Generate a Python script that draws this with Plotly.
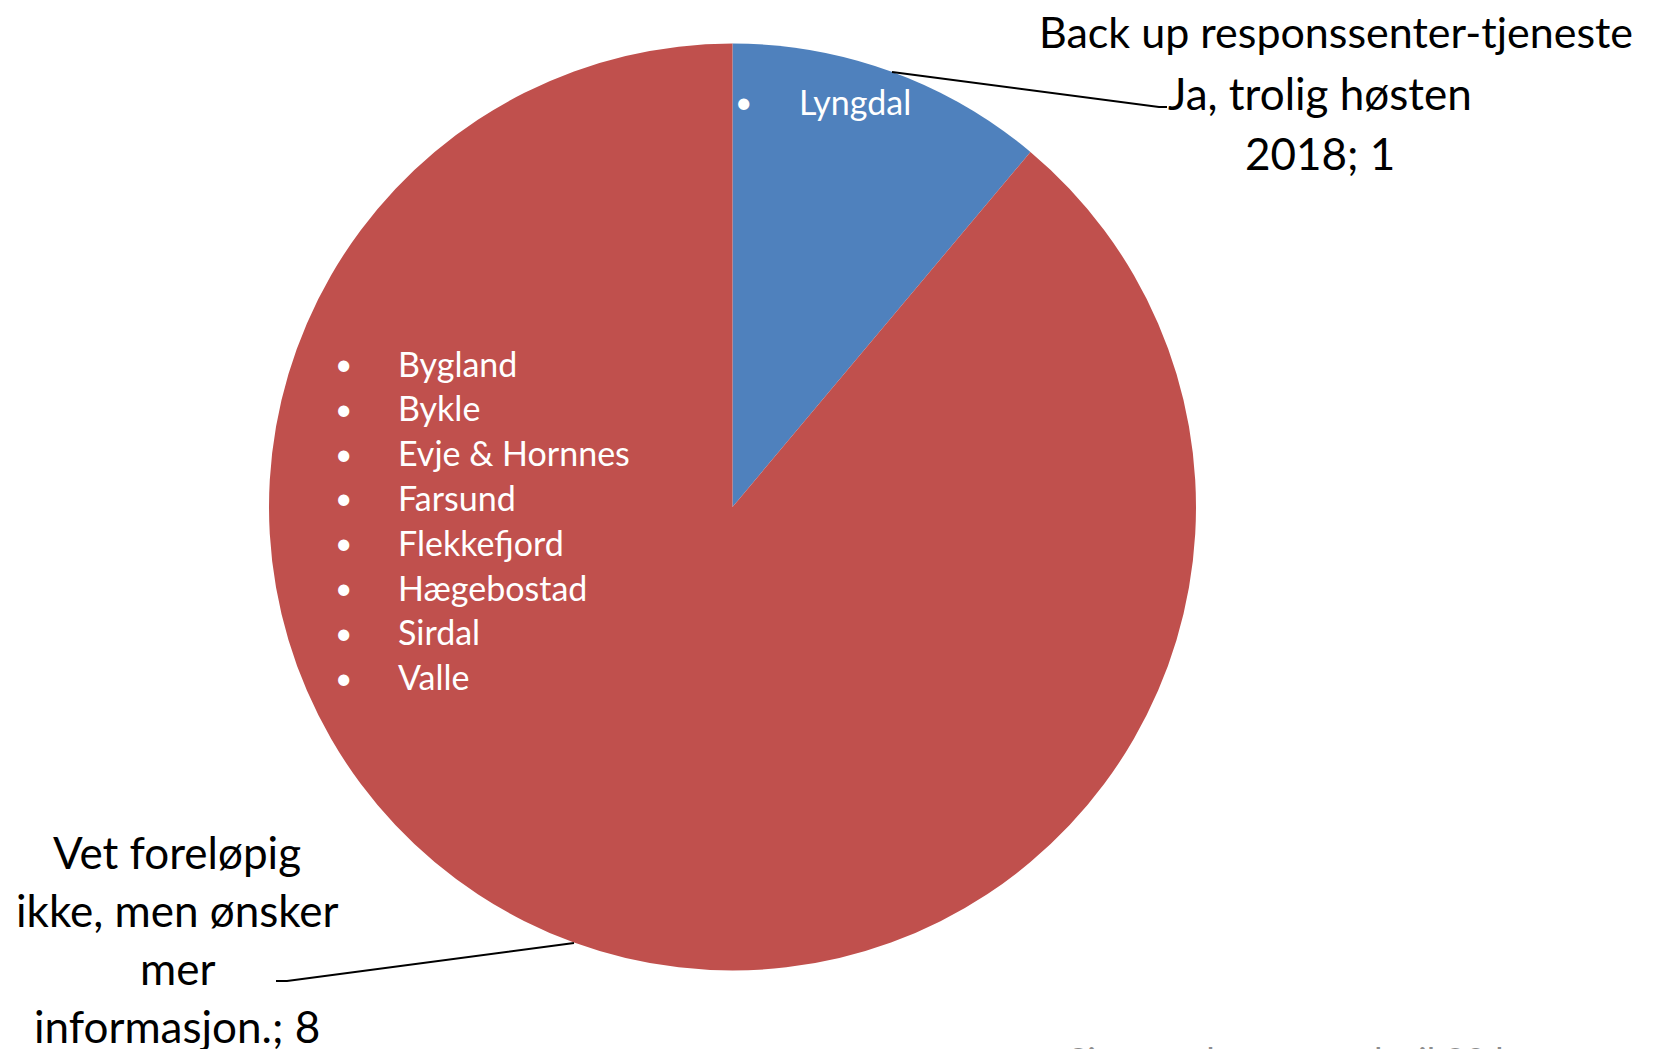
import plotly.graph_objects as go

W, H = 1653, 1049
OFF = 8  # page body margin

# Data
categories = ["Ja, trolig høsten 2018", "Vet foreløpig ikke, men ønsker mer informasjon."]
values = [1, 8]
colors = ["#4F81BD", "#C0504D"]
title_text = "Back up responssenter-tjeneste"
label_top_lines = ["Ja, trolig høsten", "2018; 1"]
label_bottom_lines = ["Vet foreløpig", "ikke, men ønsker", "mer", "informasjon.; 8"]
ja_kommuner = ["Lyngdal"]
vet_ikke_kommuner = ["Bygland", "Bykle", "Evje & Hornnes", "Farsund", "Flekkefjord",
                     "Hægebostad", "Sirdal", "Valle"]
footnote = "Sist oppdatert, sendt til 30 kommuner i Agder"

FONT = "Lato"


def px(x):
    return (x - OFF) / W


def py(y):
    return 1 - (y - OFF) / H


fig = go.Figure()
fig.add_trace(go.Pie(
    labels=categories,
    values=values,
    marker=dict(colors=colors, line=dict(width=0)),
    sort=False,
    direction="clockwise",
    rotation=0,
    textinfo="none",
    hoverinfo="label+value",
    showlegend=False,
    domain=dict(x=[px(269), px(1196)], y=[py(971), py(43)]),
))

ann = []
# Title
ann.append(dict(x=px(1336), y=py(32), text=title_text, showarrow=False,
                xanchor="center", yanchor="middle",
                font=dict(family=FONT, size=43, color="black")))
# top label
for i, t in enumerate(label_top_lines):
    ann.append(dict(x=px(1320), y=py(93 + i * 60), text=t, showarrow=False,
                    xanchor="center", yanchor="middle",
                    font=dict(family=FONT, size=44, color="black")))
# bottom label
for i, t in enumerate(label_bottom_lines):
    ann.append(dict(x=px(177), y=py(852 + i * 58), text=t, showarrow=False,
                    xanchor="center", yanchor="middle",
                    font=dict(family=FONT, size=44, color="black")))

# bullets inside slices
for i, k in enumerate(ja_kommuner):
    y = 101 + i * 45
    ann.append(dict(x=px(743), y=py(y), text="•", showarrow=False, xanchor="center",
                    yanchor="middle", font=dict(family=FONT, size=30, color="white")))
    ann.append(dict(x=px(797), y=py(y), text=k, showarrow=False, xanchor="left",
                    yanchor="middle", font=dict(family=FONT, size=34, color="white")))
for i, k in enumerate(vet_ikke_kommuner):
    y = 363 + i * 44.8
    ann.append(dict(x=px(343), y=py(y), text="•", showarrow=False, xanchor="center",
                    yanchor="middle", font=dict(family=FONT, size=30, color="white")))
    ann.append(dict(x=px(396), y=py(y), text=k, showarrow=False, xanchor="left",
                    yanchor="middle", font=dict(family=FONT, size=34, color="white")))

# footnote (cut at bottom edge, as in the reference)
ann.append(dict(x=px(1066), y=py(1036), text=footnote, showarrow=False, xanchor="left",
                yanchor="top", font=dict(family=FONT, size=36, color="#8c8c8c")))

shapes = [
    dict(type="path", xref="paper", yref="paper",
         path=f"M {px(892)} {py(72)} L {px(1159)} {py(107)} L {px(1167)} {py(107)}",
         line=dict(color="black", width=2)),
    dict(type="path", xref="paper", yref="paper",
         path=f"M {px(574)} {py(943)} L {px(287)} {py(981)} L {px(276)} {py(981)}",
         line=dict(color="black", width=2)),
]

fig.update_layout(
    width=W, height=H,
    margin=dict(l=0, r=0, t=0, b=0),
    paper_bgcolor="white", plot_bgcolor="white",
    annotations=ann, shapes=shapes,
)
fig.write_html("out.html")
